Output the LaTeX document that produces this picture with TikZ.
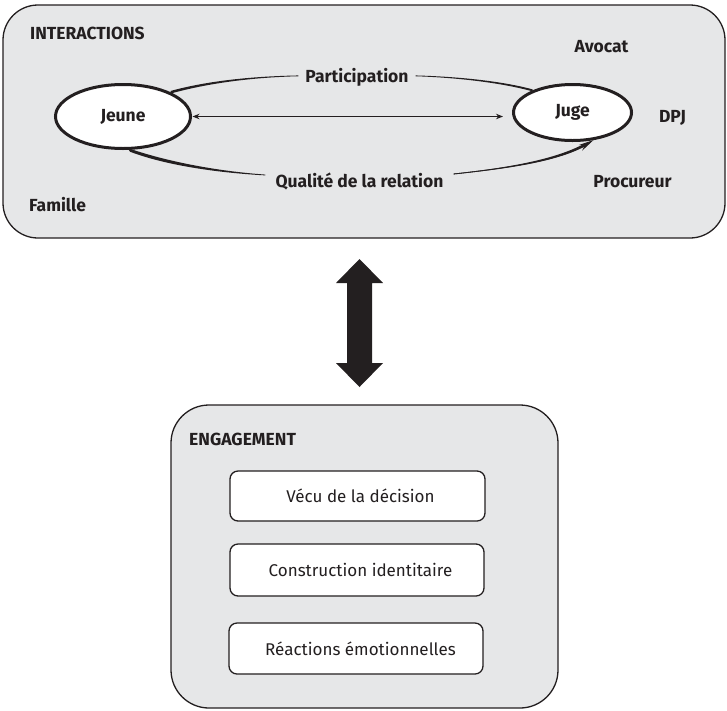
\documentclass[tikz,border=0pt]{standalone}
\usepackage{fontspec}
\setmainfont{Fira Sans}
\usetikzlibrary{shapes.geometric,arrows.meta,calc}
\definecolor{panel}{HTML}{E6E7E8}
\definecolor{ink}{HTML}{231F20}
\tikzset{
  panelbox/.style={draw=ink, fill=panel, line width=1.3pt},
  actor/.style={ellipse, draw=ink, fill=white, line width=3pt, inner sep=0pt,
                font=\fontsize{17.5}{20}\selectfont\bfseries, text=ink},
  lab/.style={inner sep=0pt, font=\fontsize{17.5}{20}\selectfont\bfseries, text=ink},
  curvelab/.style={lab, fill=panel, inner ysep=2pt},
  itembox/.style={draw=ink, fill=white, line width=1.3pt, rounded corners=8pt,
                  font=\fontsize{17}{20}\selectfont, text=ink, inner sep=0pt},
  thin/.style={draw=ink, line width=0.8pt},
}
\begin{document}
\begin{tikzpicture}[x=1pt, y=-1pt]
\useasboundingbox (0,0) rectangle (727,710);

% top panel
\node[panelbox, rounded corners=35pt, minimum width=722pt, minimum height=233pt, inner sep=0pt] (inter) at (364,121.5) {};
\node[lab, anchor=base west] (tinter) at (30,39) {INTERACTIONS};
\node[lab, anchor=base] (avocat) at (601.5,52) {Avocat};
\node[lab, anchor=base] (dpj) at (672.5,122) {DPJ};
\node[lab, anchor=base] (proc) at (632.5,187) {Procureur};
\node[lab, anchor=base west] (fam) at (29,211) {Famille};

% actors
\node[actor, minimum width=135pt, minimum height=64pt] (jeune) at (123,116.5) {Jeune};
\node[actor, minimum width=118pt, minimum height=56pt] (juge) at (572.5,112.5) {Juge};

% curve labels
\node[curvelab, anchor=base, inner xsep=7pt] (part) at (357,82) {Participation};
\node[curvelab, anchor=base, inner xsep=10pt] (qual) at (359.5,187) {Qualité de la relation};

\coordinate (j1) at (jeune.27);
\coordinate (j2) at (jeune.-80);
\coordinate (g1) at (juge.151);
\coordinate (g2) at (juge.-53);
\coordinate (p1) at ($(part.west)+(0,-1)$);
\coordinate (p2) at ($(part.east)+(0,-1)$);
\coordinate (q1) at ($(qual.west)+(0,-6)$);
\coordinate (q2) at ($(qual.east)+(0,-7)$);

% Participation: tapered halves
\fill[ink] ($(j1)+(0,-1.3)$) .. controls (210,80.2) and (255,76.3) .. ($(p1)+(0,-0.4)$)
   -- ($(p1)+(0,0.4)$) .. controls (255,77.3) and (210,82.6) .. ($(j1)+(0,1.3)$) -- cycle;
\fill[ink] ($(p2)+(0,-0.4)$) .. controls (455,76.5) and (500,80.6) .. ($(g1)+(0,-1)$)
   -- ($(g1)+(0,1)$) .. controls (500,82.4) and (455,77.5) .. ($(p2)+(0,0.4)$) -- cycle;

% Qualite de la relation: tapered halves
\fill[ink] ($(j2)+(-1,-1.8)$) .. controls (165,161) and (215,171) .. ($(q1)+(0,-0.4)$)
   -- ($(q1)+(0,0.4)$) .. controls (215,172.6) and (165,165) .. ($(j2)+(1,1.8)$) -- cycle;
\fill[ink] ($(q2)+(0,-0.4)$) .. controls (510,167.6) and (555,159.2) .. ($(g2)+(-10,4)$)
   -- ($(g2)+(-9,6.5)$) .. controls (555,161.8) and (510,168.4) .. ($(q2)+(0,0.4)$) -- cycle;
\draw[thin, -{Stealth[length=15pt,width=6.5pt]}] (q2) .. controls (510,168) and (560,160) .. (g2);

% straight double arrow between actors
\draw[ink, line width=0.9pt, {Stealth[length=7pt,width=5.5pt]}-{Stealth[length=7pt,width=5.5pt]},
      shorten <=0.5pt, shorten >=9pt] (jeune.east) -- (jeune.east -| juge.west);

% big double arrow
\begin{scope}[shift={(359.5,323)}]
\fill[ink] (0,-64) -- (23.5,-40) -- (12.5,-40) -- (12.5,40) -- (23.5,40) -- (0,64)
  -- (-23.5,40) -- (-12.5,40) -- (-12.5,-40) -- (-23.5,-40) -- cycle;
\end{scope}

% bottom panel
\node[panelbox, rounded corners=38pt, minimum width=387pt, minimum height=303pt, inner sep=0pt] (eng) at (364.5,556.5) {};
\node[lab, anchor=base west] (teng) at (189,445) {ENGAGEMENT};
\node[itembox, minimum width=255pt, minimum height=50pt] (vecu) at (357.5,496) {\hspace*{6pt}Vécu de la décision};
\node[itembox, minimum width=254pt, minimum height=52pt] (constr) at (357,570) {\hspace*{7pt}Construction identitaire};
\node[itembox, minimum width=254pt, minimum height=51pt] (react) at (356,648.5) {\hspace*{9pt}Réactions émotionnelles};
\end{tikzpicture}
\end{document}
